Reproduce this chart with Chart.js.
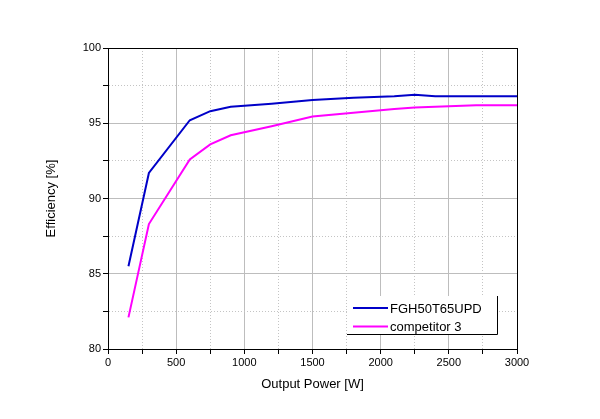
<!DOCTYPE html>
<html>
<head>
<meta charset="utf-8">
<script src="https://cdn.jsdelivr.net/npm/chart.js@4/dist/chart.umd.min.js"></script>
<style>
html,body{margin:0;padding:0;background:#fff;}
#wrap{width:600px;height:419px;position:relative;}
</style>
</head>
<body>
<div id="wrap"><canvas id="c" width="600" height="419"></canvas></div>
<script>
const power = [150, 300, 600, 750, 900, 1200, 1500, 1800, 2100, 2250, 2400, 2700, 3000];
const fghEff = [85.5, 91.7, 95.2, 95.8, 96.1, 96.3, 96.55, 96.7, 96.8, 96.9, 96.8, 96.8, 96.8];
const compEff = [82.1, 88.3, 92.6, 93.6, 94.2, 94.8, 95.45, 95.7, 95.95, 96.05, 96.1, 96.2, 96.2];
const seriesNames = ['FGH50T65UPD', 'competitor 3'];
const xTitle = 'Output Power [W]';
const yTitle = 'Efficiency [%]';

const FONT = 'Arial, "Liberation Sans", sans-serif';

const framePlugin = {
  id: 'frame',
  afterDatasetsDraw(chart) {
    const {ctx, chartArea: a} = chart;
    ctx.save();
    ctx.strokeStyle = '#000';
    ctx.lineWidth = 1;
    ctx.setLineDash([]);
    ctx.strokeRect(a.left + 0.5, a.top + 0.5, a.right - a.left, a.bottom - a.top);
    ctx.restore();
  }
};

const legendPlugin = {
  id: 'boxLegend',
  afterDraw(chart) {
    const {ctx, chartArea: a} = chart;
    const x0 = a.left + 239, y0 = a.top + 248, w = 150, h = 38;
    ctx.save();
    ctx.fillStyle = '#fff';
    ctx.fillRect(x0, y0, w, h);
    ctx.strokeStyle = '#000';
    ctx.lineWidth = 1;
    ctx.setLineDash([]);
    ctx.beginPath();
    ctx.moveTo(x0 + w + 0.5, y0);
    ctx.lineTo(x0 + w + 0.5, y0 + h + 0.5);
    ctx.lineTo(x0, y0 + h + 0.5);
    ctx.stroke();
    ctx.font = '13px ' + FONT;
    ctx.textBaseline = 'middle';
    ctx.textAlign = 'left';
    chart.data.datasets.forEach((ds, i) => {
      const yy = y0 + 12 + i * 18.5;
      ctx.strokeStyle = ds.borderColor;
      ctx.lineWidth = 2;
      ctx.beginPath();
      ctx.moveTo(x0 + 6, yy);
      ctx.lineTo(x0 + 41, yy);
      ctx.stroke();
      ctx.fillStyle = '#000';
      ctx.fillText(ds.label, x0 + 43, yy + 1);
    });
    ctx.restore();
  }
};

const isMajorX = c => c.tick && c.tick.value % 500 === 0;
const isMajorY = c => c.tick && c.tick.value % 5 === 0;

new Chart(document.getElementById('c'), {
  type: 'line',
  data: {
    datasets: [
      {
        label: seriesNames[0],
        data: power.map((p, i) => ({x: p, y: fghEff[i]})),
        borderColor: '#0000c8',
        borderWidth: 2,
        pointRadius: 0,
        tension: 0,
        fill: false
      },
      {
        label: seriesNames[1],
        data: power.map((p, i) => ({x: p, y: compEff[i]})),
        borderColor: '#ff00ff',
        borderWidth: 2,
        pointRadius: 0,
        tension: 0,
        fill: false
      }
    ]
  },
  options: {
    responsive: false,
    animation: false,
    devicePixelRatio: 1,
    layout: {padding: {left: 2, right: 83, top: 48, bottom: 20}},
    plugins: {legend: {display: false}, tooltip: {enabled: false}},
    scales: {
      x: {
        type: 'linear',
        min: 0, max: 3000,
        afterFit(s) { s.height = 50; },
        ticks: {
          stepSize: 250,
          autoSkip: false,
          maxRotation: 0,
          padding: 2,
          color: '#000',
          font: {family: FONT, size: 11},
          callback: v => (v % 500 === 0 ? String(v) : '')
        },
        grid: {
          color: c => (isMajorX(c) ? '#bdbdbd' : '#c4c4c4'),
          tickColor: '#000',
          tickLength: 5,
          lineWidth: 1
        },
        border: {
          display: true, color: '#000', width: 1,
          dash: c => (!c.tick || isMajorX(c) ? [] : [1, 2])
        },
        title: {
          display: true,
          text: xTitle,
          color: '#000',
          font: {family: FONT, size: 13},
          padding: {top: 0, bottom: 7}
        }
      },
      y: {
        type: 'linear',
        min: 80, max: 100,
        afterFit(s) { s.width = 106; },
        ticks: {
          stepSize: 2.5,
          autoSkip: false,
          padding: 2,
          color: '#000',
          font: {family: FONT, size: 11},
          callback: v => (v % 5 === 0 ? String(v) : '')
        },
        grid: {
          color: c => (isMajorY(c) ? '#bdbdbd' : '#c4c4c4'),
          tickColor: '#000',
          tickLength: 5,
          lineWidth: 1
        },
        border: {
          display: true, color: '#000', width: 1,
          dash: c => (!c.tick || isMajorY(c) ? [] : [1, 2])
        },
        title: {
          display: true,
          text: yTitle,
          color: '#000',
          font: {family: FONT, size: 13},
          padding: {top: 42, bottom: 0}
        }
      }
    }
  },
  plugins: [framePlugin, legendPlugin]
});
</script>
</body>
</html>
